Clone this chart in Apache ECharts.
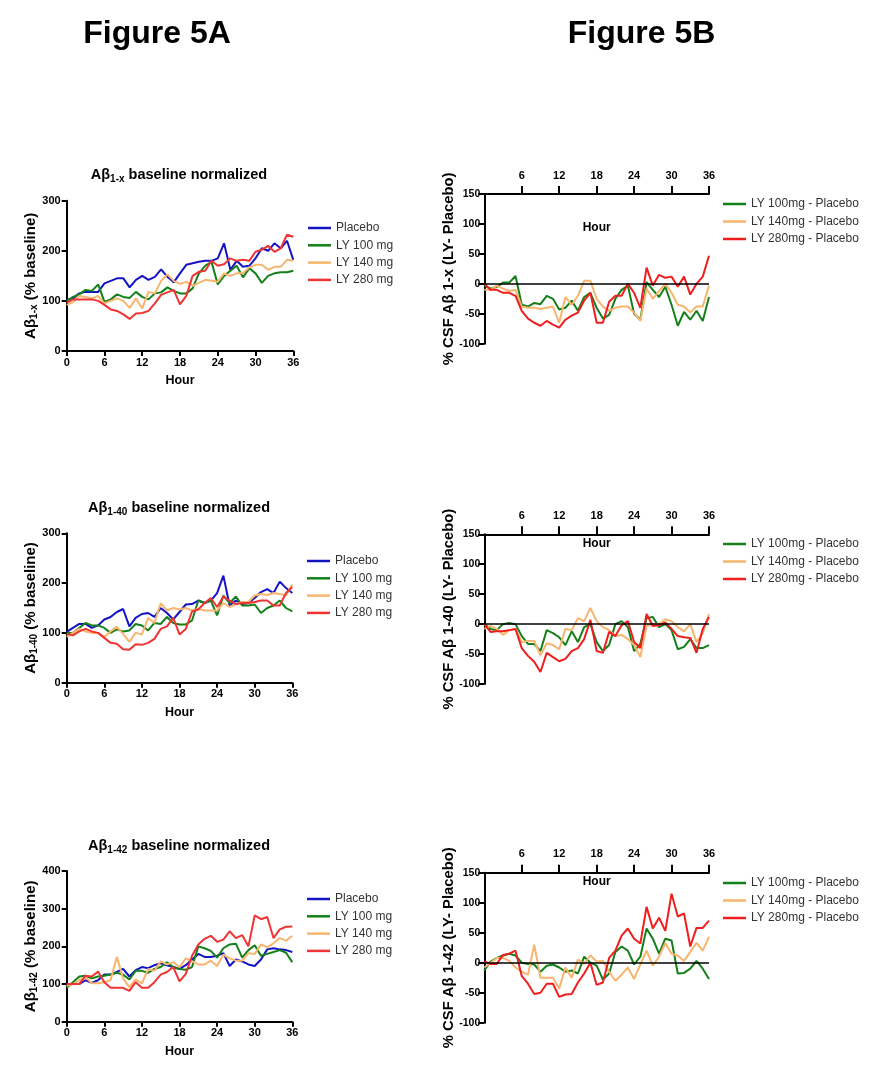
<!DOCTYPE html>
<html><head><meta charset="utf-8">
<script src="https://cdn.jsdelivr.net/npm/echarts@6/dist/echarts.min.js"></script>
<style>html,body{margin:0;padding:0;background:#fff}#c{width:881px;height:1079px}</style>
</head><body><div id="c"></div>
<script>
// ---------- DATA ----------
const hours = [0,1,2,3,4,5,6,7,8,9,10,11,12,13,14,15,16,17,18,19,20,21,22,23,24,25,26,27,28,29,30,31,32,33,34,35,36];
const xTicks = [0,6,12,18,24,30,36];

const namesA = ['Placebo','LY 100 mg','LY 140 mg','LY 280 mg'];
const namesB = ['LY 100mg - Placebo','LY 140mg - Placebo','LY 280mg - Placebo'];

// Panel 5A top: Abeta 1-x baseline normalized (% baseline)
const a1x_placebo = [102,105,115,118,118,118,135,140,145,145,127,142,150,142,148,163,148,137,155,172,175,178,180,180,185,215,162,180,168,170,185,205,200,215,205,220,182];
const a1x_ly100  = [100,108,113,122,120,133,98,103,113,108,106,118,108,103,115,117,127,120,115,115,125,155,170,178,133,150,160,170,147,165,155,136,150,155,157,157,160];
const a1x_ly140  = [92,97,110,108,105,110,95,100,105,100,86,105,85,118,115,140,153,140,134,138,130,136,142,140,138,155,150,155,155,167,172,172,162,168,168,182,180];
const a1x_ly280  = [96,103,103,103,103,100,92,83,80,73,64,75,76,80,95,112,117,122,93,110,150,158,160,180,170,173,185,180,182,180,198,202,210,198,205,232,228];

// Panel 5B top: % CSF Abeta 1-x (LY - Placebo)
const d1x_ly100 = [-3,-8,-5,2,2,13,-35,-38,-32,-34,-20,-25,-43,-40,-28,-45,-22,-15,-40,-58,-52,-25,-10,-3,-50,-60,3,-10,-22,-5,-35,-70,-47,-60,-45,-62,-22];
const d1x_ly140 = [-10,-10,-3,-8,-12,-10,-38,-40,-40,-42,-40,-38,-65,-22,-35,-20,5,5,-25,-38,-45,-40,-38,-38,-48,-62,-8,-25,-12,0,-15,-35,-38,-48,-38,-38,-3];
const d1x_ly280 = [0,-10,-10,-15,-15,-20,-45,-58,-65,-70,-62,-68,-73,-60,-53,-48,-28,-15,-65,-65,-30,-20,-20,0,-15,-40,27,-3,15,10,12,-5,12,-18,0,12,47];

// Panel 5A middle: Abeta 1-40
const a40_placebo = [102,110,118,118,110,115,127,132,142,148,113,130,138,140,132,150,140,127,142,157,158,165,160,165,180,215,155,165,158,160,170,182,188,180,203,190,180];
const a40_ly100  = [100,100,110,120,115,115,110,100,107,103,105,118,115,105,120,118,132,120,117,117,125,165,160,165,135,175,160,173,155,155,157,140,150,155,165,150,143];
const a40_ly140  = [92,100,108,103,100,100,92,103,112,98,82,100,97,130,120,160,145,150,147,150,145,148,145,145,145,160,152,158,162,162,175,178,176,180,178,175,197];
const a40_ly280  = [98,95,103,108,103,100,90,80,78,67,66,77,76,80,88,108,113,130,97,108,143,147,160,170,152,173,165,158,160,160,162,165,165,155,155,180,192];

// Panel 5B middle
const d40_ly100 = [0,-8,-10,0,2,0,-20,-33,-33,-45,-10,-15,-22,-35,-12,-30,-5,0,-30,-45,-35,0,5,-5,-45,-33,10,12,-5,0,-10,-42,-38,-25,-40,-40,-35];
const d40_ly140 = [-8,-3,-8,-18,-10,-8,-30,-28,-28,-52,-32,-35,-42,-8,-10,10,5,27,5,-5,-10,-20,-18,-25,-35,-55,-3,0,0,8,5,-5,-12,0,-30,-15,17];
const d40_ly280 = [0,-13,-12,-12,-10,-8,-40,-53,-63,-80,-48,-55,-62,-58,-45,-40,-25,7,-45,-48,-13,-20,-2,5,-30,-40,17,-3,-2,3,-8,-20,-22,-23,-48,-8,12];

// Panel 5A bottom: Abeta 1-42
const a42_placebo = [100,100,100,110,103,110,125,125,132,140,120,137,145,142,150,155,150,145,140,150,165,180,172,172,175,182,148,165,160,152,148,165,192,195,192,190,185];
const a42_ly100  = [90,105,120,122,115,120,122,125,130,125,112,135,135,130,140,145,158,145,140,138,145,200,195,188,170,195,205,207,170,190,203,175,180,185,190,183,158];
const a42_ly140  = [95,100,110,118,102,102,105,110,172,115,92,112,102,140,135,160,152,158,145,168,160,152,152,162,148,178,168,162,162,182,180,205,198,208,222,215,228];
const a42_ly280  = [100,100,100,122,120,133,105,90,90,90,82,105,90,90,105,125,132,145,107,127,175,205,220,228,212,218,240,222,230,200,282,272,278,222,245,252,253];

// Panel 5B bottom
const d42_ly100 = [-13,2,8,12,15,12,0,-2,-3,-15,-5,-3,-8,-15,-13,-18,10,0,-5,-28,-18,18,27,20,-3,10,57,40,15,40,37,-18,-17,-10,3,-10,-27];
const d42_ly140 = [-8,0,8,8,3,-8,-15,-20,30,-25,-25,-25,-43,-8,-25,5,-2,12,2,3,-15,-30,-20,-8,-27,-3,20,-5,10,33,15,12,3,18,33,20,43];
const d42_ly280 = [2,-2,-2,13,15,20,-22,-35,-52,-50,-35,-35,-57,-53,-52,-33,-18,0,-37,-33,8,20,45,57,40,32,93,57,75,53,115,77,82,27,58,58,70];

// ---------- STYLE / LAYOUT ----------
const FONT = '"Liberation Sans", Arial, Helvetica, sans-serif';
const colA = ['#1414c4', '#148019', '#f7b56e', '#f03434'];
const colB = ['#148019', '#f7b56e', '#f01e1e'];

const panels = [
  {kind:'A', grid:{left:66.7, top:200.7, width:226.6, height:150.3}, ymax:300, sub:'1-x', series:[a1x_placebo,a1x_ly100,a1x_ly140,a1x_ly280], legend:{left:308, top:221}},
  {kind:'B', grid:{left:484.3, top:194, width:224.7, height:149.7}, yname:'% CSF Aβ 1-x (LY- Placebo)', hourGap:-40, series:[d1x_ly100,d1x_ly140,d1x_ly280], legend:{left:723, top:197}},
  {kind:'A', grid:{left:66.7, top:533.3, width:225.6, height:149.4}, ymax:300, sub:'1-40', series:[a40_placebo,a40_ly100,a40_ly140,a40_ly280], legend:{left:307, top:554}},
  {kind:'B', grid:{left:484.3, top:534.3, width:224.7, height:149.7}, yname:'% CSF Aβ 1-40 (LY- Placebo)', hourGap:-15, series:[d40_ly100,d40_ly140,d40_ly280], legend:{left:723, top:537}},
  {kind:'A', grid:{left:66.7, top:871, width:225.6, height:150.7}, ymax:400, sub:'1-42', series:[a42_placebo,a42_ly100,a42_ly140,a42_ly280], legend:{left:307, top:892}},
  {kind:'B', grid:{left:484.3, top:872.7, width:224.7, height:150}, yname:'% CSF Aβ 1-42 (LY- Placebo)', hourGap:-15, series:[d42_ly100,d42_ly140,d42_ly280], legend:{left:723, top:876}}
];

const axisLine = {onZero:false, lineStyle:{color:'#000', width:2}};
const tickStyle = {color:'#000', width:2};
const labelBase = {color:'#000', fontWeight:'bold', fontSize:11, fontFamily:FONT};

const grids=[], xAxes=[], yAxes=[], series=[], legends=[];
panels.forEach((p, i) => {
  grids.push(Object.assign({containLabel:false}, p.grid));
  if (p.kind === 'A') {
    xAxes.push({type:'value', gridIndex:i, min:0, max:36, interval:6, position:'bottom',
      axisLine, axisTick:{length:5, lineStyle:tickStyle}, splitLine:{show:false},
      axisLabel:Object.assign({margin:6}, labelBase),
      name:'Hour', nameLocation:'middle', nameGap:23, nameMoveOverlap:false,
      nameTextStyle:{color:'#000', fontWeight:'bold', fontSize:12.5, fontFamily:FONT}});
    yAxes.push({type:'value', gridIndex:i, min:0, max:p.ymax, interval:100,
      axisLine, axisTick:{length:5, lineStyle:tickStyle}, splitLine:{show:false},
      axisLabel:Object.assign({margin:6}, labelBase),
      name:'{b|Aβ}{s|' + p.sub + '}{b| (% baseline)}', nameLocation:'middle', nameGap:27, nameRotate:90, nameMoveOverlap:false,
      nameTextStyle:{rich:{
        b:{color:'#000', fontWeight:'bold', fontSize:15, fontFamily:FONT, lineHeight:18},
        s:{color:'#000', fontWeight:'bold', fontSize:10, fontFamily:FONT, lineHeight:8, verticalAlign:'bottom'}}}});
    p.series.forEach((vals, k) => {
      series.push({type:'line', name:namesA[k], xAxisIndex:i, yAxisIndex:i, symbol:'none', smooth:false,
        color:colA[k], lineStyle:{width:2, color:colA[k]},
        data:hours.map((h, j) => [h, vals[j]])});
    });
    legends.push({orient:'vertical', left:p.legend.left, top:p.legend.top, padding:0, itemWidth:23, itemHeight:2.5, itemGap:3.3,
      selectedMode:false, textStyle:{fontSize:12, color:'#333', fontFamily:FONT, lineHeight:14},
      data:namesA.map(n => ({name:n, icon:'rect'}))});
  } else {
    xAxes.push({type:'value', gridIndex:i, min:0, max:36, interval:6, position:'top',
      axisLine, axisTick:{length:8, lineStyle:tickStyle}, splitLine:{show:false},
      axisLabel:Object.assign({margin:13, showMinLabel:false}, labelBase),
      name:'Hour', nameLocation:'middle', nameGap:p.hourGap, nameMoveOverlap:false,
      nameTextStyle:{color:'#000', fontWeight:'bold', fontSize:12, fontFamily:FONT}});
    yAxes.push({type:'value', gridIndex:i, min:-100, max:150, interval:50,
      axisLine, axisTick:{length:6, lineStyle:tickStyle}, splitLine:{show:false},
      axisLabel:Object.assign({margin:4}, labelBase, {fontSize:10.5}),
      name:p.yname, nameLocation:'middle', nameGap:28, nameRotate:90, nameMoveOverlap:false,
      nameTextStyle:{color:'#000', fontWeight:'bold', fontSize:14.8, fontFamily:FONT}});
    p.series.forEach((vals, k) => {
      const s = {type:'line', name:namesB[k], xAxisIndex:i, yAxisIndex:i, symbol:'none', smooth:false,
        color:colB[k], lineStyle:{width:2, color:colB[k]},
        data:hours.map((h, j) => [h, vals[j]])};
      if (k === 0) {
        s.markLine = {silent:true, symbol:['none','none'], label:{show:false}, animation:false,
          lineStyle:{color:'#000', type:'solid', width:1.5}, data:[{yAxis:0}]};
      }
      series.push(s);
    });
    legends.push({orient:'vertical', left:p.legend.left, top:p.legend.top, padding:0, itemWidth:23, itemHeight:2.5, itemGap:3.5,
      selectedMode:false, textStyle:{fontSize:12, color:'#333', fontFamily:FONT, lineHeight:14},
      data:namesB.map(n => ({name:n, icon:'rect'}))});
  }
});

const subTitle = (sub, y) => ({type:'text', x:179, y:y, style:{
  text:'{b|Aβ}{s|' + sub + '}{b| baseline normalized}', align:'center', verticalAlign:'middle',
  rich:{b:{fill:'#000', fontWeight:'bold', fontSize:14.5, fontFamily:FONT, lineHeight:18},
        s:{fill:'#000', fontWeight:'bold', fontSize:10, fontFamily:FONT, lineHeight:8, verticalAlign:'bottom'}}}});

const graphic = [
  {type:'text', x:157, y:34, style:{text:'Figure 5A', fill:'#000', fontWeight:'bold', fontSize:32, fontFamily:FONT, align:'center', verticalAlign:'middle'}},
  {type:'text', x:641.5, y:34, style:{text:'Figure 5B', fill:'#000', fontWeight:'bold', fontSize:32, fontFamily:FONT, align:'center', verticalAlign:'middle'}},
  subTitle('1-x', 175), subTitle('1-40', 508), subTitle('1-42', 846)
];

const chart = echarts.init(document.getElementById('c'), null, {renderer:'canvas'});
chart.setOption({
  backgroundColor:'#fff', animation:false,
  grid:grids, xAxis:xAxes, yAxis:yAxes, series:series, legend:legends, graphic:graphic
});
</script>
</body></html>
